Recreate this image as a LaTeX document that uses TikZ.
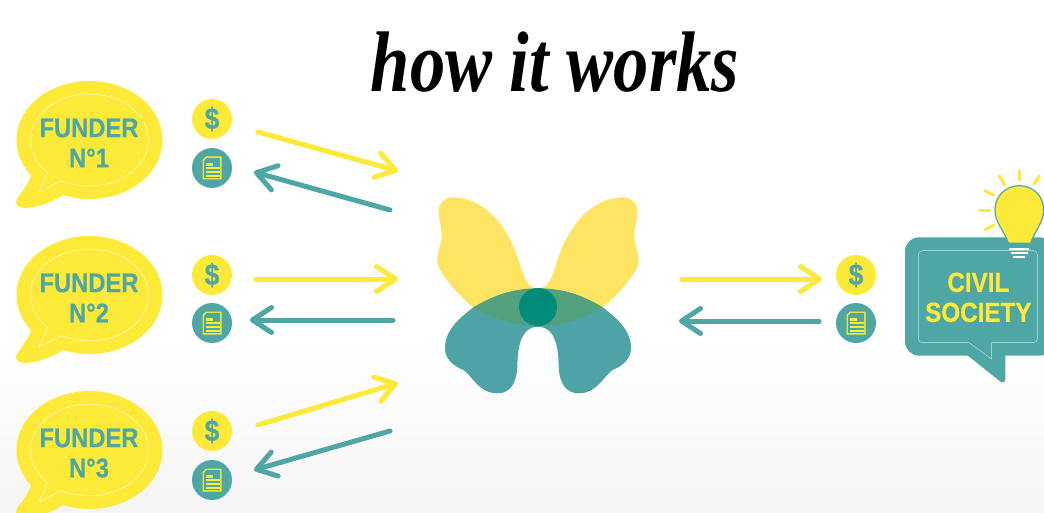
\documentclass[tikz,border=0pt]{standalone}
\usepackage{fontspec}
\setmainfont{Liberation Sans}[FakeStretch=0.88,BoldFeatures={FakeBold=0.6}]
\newfontfamily\titlefont{Liberation Serif}[FakeStretch=0.82]
\usepackage{xcolor}
\definecolor{sun}{HTML}{FDEA38}
\definecolor{sunsoft}{HTML}{FDE563}
\definecolor{lagoon}{HTML}{4FA7A5}
\definecolor{wingteal}{HTML}{4DA3A5}
\definecolor{eyegreen}{HTML}{52A07C}
\definecolor{pupil}{HTML}{008C78}
\definecolor{fade}{HTML}{F5F5F5}
\usetikzlibrary{arrows.meta,positioning}
\tikzset{
  yarr/.style={draw=sun,line width=5pt,line cap=round,-{Straight Barb[length=19pt,width=25pt,round]}},
  tarr/.style={yarr,draw=lagoon},
  coin/.style={circle,fill=sun,minimum size=40pt,inner sep=0pt,text=lagoon,font=\fontsize{30}{30}\selectfont\bfseries},
  paper/.style={circle,fill=lagoon,minimum size=40pt,inner sep=0pt},
  lab/.style={font=\fontsize{27}{30}\selectfont\bfseries,text=lagoon,inner sep=0pt},
  clab/.style={lab,text=sun,font=\fontsize{27.5}{30}\selectfont\bfseries},
  ray/.style={draw=sun,line width=3pt,line cap=round},
  seam/.style={draw=white,line width=0.5pt},
  pics/docicon/.style={code={
    \fill[sun] (-6,-11.5) -- (9.5,-11.5) -- (9.5,11.5) -- (-9.5,11.5) -- (-9.5,-8) -- cycle;
    \fill[lagoon] (-5.2,-10.2) -- (8.2,-10.2) -- (8.2,10.2) -- (-8.2,10.2) -- (-8.2,-7) -- cycle;
    \fill[sun] (-6.5,-4.7) rectangle (1,-2.4);
    \foreach \l in {-1.3,3,7} \fill[sun] (-6.5,\l) rectangle (7.5,\l+2.4);
  }},
  pics/funderballoon/.style={code={
    \fill[sun] (89.5,140) ellipse[x radius=73,y radius=59];
    \fill[sun] (31,170) -- (31,176) .. controls (27,186) and (21,193) .. (17,199)
      .. controls (14,205) and (19,208) .. (25,208) .. controls (40,207) and (52,202) .. (63,195) -- (75,180) -- cycle;
    \draw[seam,dash pattern=on 2pt off 0.7pt] plot[domain=242:585,samples=70,variable=\t] ({89.5+59*cos(\t)},{140-46*sin(\t)}) -- (39,192) -- cycle;
  }},
}
\begin{document}
\begin{tikzpicture}[x=1pt,y=-1pt]
\clip (0,0) rectangle (1044,513);
\fill[white] (0,0) rectangle (1044,340);
\shade[top color=white,bottom color=fade] (0,340) rectangle (1044,513);
\node[inner sep=0pt] (title) at (555,62) {\titlefont\itshape\bfseries\fontsize{86}{86}\selectfont how it works};
\foreach \n/\dy in {1/0,2/155,3/310} {
  \pic at (0,\dy) {funderballoon};
  \node[lab] (funder\n) at (89,128+\dy) {FUNDER};
  \node[lab] (number\n) at (89,158+\dy) {N°\n};
}
\foreach \n/\x/\ya/\yb in {1/212/119/168,2/212/275/323,3/212/431/480,4/856/275/323} {
  \node[coin] (cash\n) at (\x,\ya) {\$};
  \node[paper] (doc\n) at (\x,\yb) {};
  \pic at (doc\n) {docicon};
}
\coordinate (in1) at (258,132);
\coordinate (in2) at (256,279);
\coordinate (in3) at (258,425);
\coordinate (in4) at (682,279);
\coordinate (hub1) at (398,171);
\coordinate (hub2) at (398,279);
\coordinate (hub3) at (398,383);
\coordinate (hub4) at (822,279);
\coordinate (out1) at (390,210);
\coordinate (out2) at (393,320);
\coordinate (out3) at (390,431);
\coordinate (out4) at (819,321);
\coordinate (back1) at (254,172);
\coordinate (back2) at (250,320);
\coordinate (back3) at (254,470);
\coordinate (back4) at (679,321);
\foreach \u/\v in {in1/hub1,in2/hub2,in3/hub3,in4/hub4} \draw[yarr] (\u)--(\v);
\foreach \u/\v in {out1/back1,out2/back2,out3/back3,out4/back4} \draw[tarr] (\u)--(\v);
\foreach \sx/\ox in {1/420,-1/656} {
  \begin{scope}[shift={(\ox,180)},x=\sx*0.3333pt,y=-0.3333pt]
    \fill[wingteal] (356,325) .. controls (280,325) and (215,345) .. (160,382) .. controls (110,420) and (75,455) .. (75,505) .. controls (75,540) and (105,560) .. (130,570) .. controls (155,585) and (175,640) .. (232,640) .. controls (270,640) and (290,610) .. (292,560) .. controls (293,520) and (295,440) .. (356,440) -- cycle;
    \fill[sunsoft] (354,325) .. controls (325,325) and (315,300) .. (300,255) .. controls (280,180) and (220,60) .. (105,52) .. controls (70,50) and (52,75) .. (56,105) .. controls (60,135) and (70,160) .. (62,190) .. controls (55,215) and (45,245) .. (60,270) .. controls (85,310) and (120,350) .. (160,382) -- (354,400) -- cycle;
  \end{scope}
}
\begin{scope}[shift={(420,180)},x=0.3333pt,y=-0.3333pt]
  \fill[eyegreen] (160,382) .. controls (230,340) and (290,325) .. (354,325) .. controls (420,325) and (480,340) .. (548,382) .. controls (480,420) and (420,438) .. (354,438) .. controls (290,438) and (230,420) .. (160,382) -- cycle;
  \node[circle,fill=pupil,minimum size=38pt,inner sep=0pt] (body) at (354,381) {};
\end{scope}
\begin{scope}[shift={(820,160)},x=0.3333pt,y=-0.3333pt]
  \fill[lagoon,rounded corners=14pt] (255,232) rectangle (700,587);
  \fill[lagoon] (435,580) -- (540,664) .. controls (547,670) and (556,668) .. (556,660) -- (556,580) -- cycle;
  \draw[seam,draw=white!70!lagoon,line width=0.4pt,rounded corners=4pt] (515,548) -- (652,548) -- (652,272) -- (295,272) -- (295,548) -- (447,548);
  \draw[seam,draw=white!70!lagoon,line width=0.4pt] (447,548) -- (515,597) -- (515,548);
  \node[clab] (civil) at (475,367) {CIVIL};
  \node[clab] (society) at (475,457) {SOCIETY};
  \fill[sun,draw=lagoon,line width=1.2pt] (565,250) .. controls (555,215) and (525,190) .. (525,150) .. controls (525,105) and (560,77) .. (598,77) .. controls (636,77) and (671,105) .. (671,150) .. controls (671,190) and (642,215) .. (632,250) -- cycle;
  \foreach \a/\b/\w in {568/628/267,572/624/280,580/616/292} \fill[white] (\a,\w-3) rectangle (\b,\w+3);
  \foreach \a/\b/\c/\d in {598/32/598/60,538/48/555/75,658/48/642/72,495/92/522/106,480/151/510/151,495/210/522/195} \draw[ray] (\a,\b)--(\c,\d);
\end{scope}
\end{tikzpicture}
\end{document}
